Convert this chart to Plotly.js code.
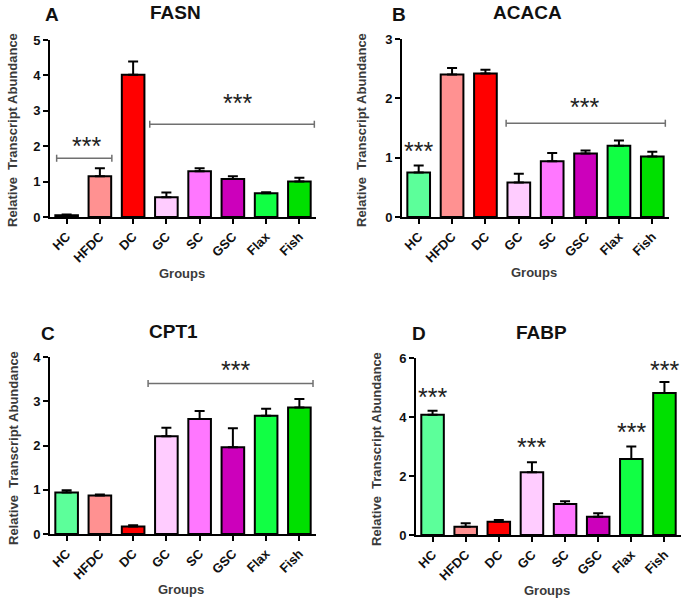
<!DOCTYPE html>
<html>
<head>
<meta charset="utf-8">
<script src="https://cdn.plot.ly/plotly-3.0.1.min.js"></script>
<style>html,body{margin:0;padding:0;background:#fff;}#chart{width:688px;height:602px;}</style>
</head>
<body>
<div id="chart"></div>
<script>
// ---- data ----
const groups = ['HC', 'HFDC', 'DC', 'GC', 'SC', 'GSC', 'Flax', 'Fish'];
const barColors = ['#5cff9a', '#ff9191', '#ff0000', '#ffccff', '#ff77ff', '#cc00bb', '#11ff44', '#00e000'];

const fasnMean  = [0.05, 1.15, 4.02, 0.56, 1.29, 1.07, 0.67, 1.00];
const fasnErr   = [0.02, 0.23, 0.37, 0.13, 0.09, 0.08, 0.03, 0.11];
const acacaMean = [0.75, 2.40, 2.42, 0.58, 0.94, 1.07, 1.20, 1.02];
const acacaErr  = [0.12, 0.11, 0.06, 0.15, 0.14, 0.05, 0.09, 0.08];
const cpt1Mean  = [0.94, 0.87, 0.17, 2.21, 2.60, 1.96, 2.67, 2.86];
const cpt1Err   = [0.05, 0.02, 0.03, 0.19, 0.18, 0.43, 0.16, 0.19];
const fabpMean  = [4.08, 0.28, 0.45, 2.13, 1.05, 0.62, 2.58, 4.81];
const fabpErr   = [0.13, 0.12, 0.06, 0.34, 0.09, 0.12, 0.42, 0.38];

const panelTitles = ['FASN', 'ACACA', 'CPT1', 'FABP'];
const panelLetters = ['A', 'B', 'C', 'D'];
const yMax = [5, 3, 4, 6];
const yStep = [1, 1, 1, 2];

// significance brackets: panel, xStart, xEnd, yLevel
const bracketPanel = [0, 0, 1, 2];
const bracketX0    = [-0.3, 2.5, 2.62, 2.45];
const bracketX1    = [1.36, 7.45, 7.39, 7.41];
const bracketY     = [1.66, 2.62, 1.58, 3.40];
// star labels: panel, x, y
const starPanel = [0, 0, 1, 1, 2, 3, 3, 3, 3];
const starX     = [0.59, 5.15, 0, 4.98, 5.09, 0, 3, 6, 7];
const starY     = [2.18, 3.40, 1.22, 1.95, 3.85, 4.89, 3.20, 3.70, 5.80];

// ---- layout geometry (px) ----
const W = 688, H = 602;
const boxes = [ // left, right, top, bottom in px
  [50, 316, 40, 217],
  [402, 669, 39, 217],
  [50, 316, 357, 534],
  [416, 681, 358, 535]
];
const letterPos = [[52, 15], [399, 15], [48, 333], [419, 333]];
const titlePos  = [[175, 13], [527, 13], [173, 331], [541, 332]];
const yTitlePos = [[13, 130], [362, 130], [13, 448], [376, 449]];
const xTitlePos = [[182, 273], [534, 272], [181, 589], [547, 590]];

const means = [fasnMean, acacaMean, cpt1Mean, fabpMean];
const errs = [fasnErr, acacaErr, cpt1Err, fabpErr];

const FAM = 'Liberation Sans, Arial, sans-serif';
const traces = [];
const layout = {
  width: W, height: H,
  margin: {l: 0, r: 0, t: 0, b: 0},
  paper_bgcolor: '#ffffff', plot_bgcolor: '#ffffff',
  showlegend: false,
  annotations: [], shapes: []
};

for (let p = 0; p < 4; p++) {
  const ax = p === 0 ? '' : String(p + 1);
  traces.push({
    type: 'bar',
    x: groups, y: means[p],
    xaxis: 'x' + ax, yaxis: 'y' + ax,
    width: 0.68,
    marker: {color: barColors, line: {color: '#000', width: 2}},
    error_y: {type: 'data', array: errs[p], arrayminus: errs[p].map(() => 0), symmetric: false,
              color: '#000', thickness: 2, width: 5},
    hoverinfo: 'x+y'
  });
  const b = boxes[p];
  layout['xaxis' + ax] = {
    domain: [b[0] / W, b[1] / W], anchor: 'y' + ax,
    type: 'category', range: [-0.5, 7.5],
    showline: true, linecolor: '#000', linewidth: 2,
    ticks: 'outside', ticklen: 5, tickwidth: 2, tickcolor: '#000',
    tickangle: -45, showgrid: false, zeroline: false,
    tickfont: {family: FAM, size: 13, color: '#111', weight: 700}
  };
  layout['yaxis' + ax] = {
    domain: [(H - b[3]) / H, (H - b[2]) / H], anchor: 'x' + ax,
    range: [0, yMax[p]], dtick: yStep[p], tick0: 0,
    showline: true, linecolor: '#000', linewidth: 2,
    ticks: 'outside', ticklen: 5, tickwidth: 2, tickcolor: '#000',
    showgrid: false, zeroline: false,
    tickfont: {family: FAM, size: 13, color: '#111', weight: 700}
  };
  layout.annotations.push({
    xref: 'paper', yref: 'paper', x: letterPos[p][0] / W, y: (H - letterPos[p][1]) / H,
    text: '<b>' + panelLetters[p] + '</b>', showarrow: false, xanchor: 'center', yanchor: 'middle',
    font: {family: FAM, size: 19, color: '#111'}
  });
  layout.annotations.push({
    xref: 'paper', yref: 'paper', x: titlePos[p][0] / W, y: (H - titlePos[p][1]) / H,
    text: '<b>' + panelTitles[p] + '</b>', showarrow: false, xanchor: 'center', yanchor: 'middle',
    font: {family: FAM, size: 19, color: '#111'}
  });
  layout.annotations.push({
    xref: 'paper', yref: 'paper', x: yTitlePos[p][0] / W, y: (H - yTitlePos[p][1]) / H,
    text: '<b>Relative&nbsp;&nbsp;Transcript Abundance</b>', textangle: -90, showarrow: false,
    xanchor: 'center', yanchor: 'middle',
    font: {family: FAM, size: 13, color: '#3a3a3a'}
  });
  layout.annotations.push({
    xref: 'paper', yref: 'paper', x: xTitlePos[p][0] / W, y: (H - xTitlePos[p][1]) / H,
    text: '<b>Groups</b>', showarrow: false, xanchor: 'center', yanchor: 'middle',
    font: {family: FAM, size: 13, color: '#3a3a3a'}
  });
}

// brackets
for (let i = 0; i < bracketPanel.length; i++) {
  const p = bracketPanel[i];
  const ax = p === 0 ? '' : String(p + 1);
  const tick = yMax[p] * 0.02;
  const ln = {color: '#707070', width: 1.5};
  layout.shapes.push({type: 'line', xref: 'x' + ax, yref: 'y' + ax,
    x0: bracketX0[i], x1: bracketX1[i], y0: bracketY[i], y1: bracketY[i], line: ln});
  layout.shapes.push({type: 'line', xref: 'x' + ax, yref: 'y' + ax,
    x0: bracketX0[i], x1: bracketX0[i], y0: bracketY[i] - tick, y1: bracketY[i] + tick, line: ln});
  layout.shapes.push({type: 'line', xref: 'x' + ax, yref: 'y' + ax,
    x0: bracketX1[i], x1: bracketX1[i], y0: bracketY[i] - tick, y1: bracketY[i] + tick, line: ln});
}
// stars
for (let i = 0; i < starPanel.length; i++) {
  const p = starPanel[i];
  const ax = p === 0 ? '' : String(p + 1);
  layout.annotations.push({
    xref: 'x' + ax, yref: 'y' + ax, x: starX[i], y: starY[i],
    text: '***', showarrow: false, xanchor: 'center', yanchor: 'middle', yshift: -6,
    font: {family: FAM, size: 25, color: '#222'}
  });
}

Plotly.newPlot('chart', traces, layout, {staticPlot: true});
</script>
</body>
</html>
